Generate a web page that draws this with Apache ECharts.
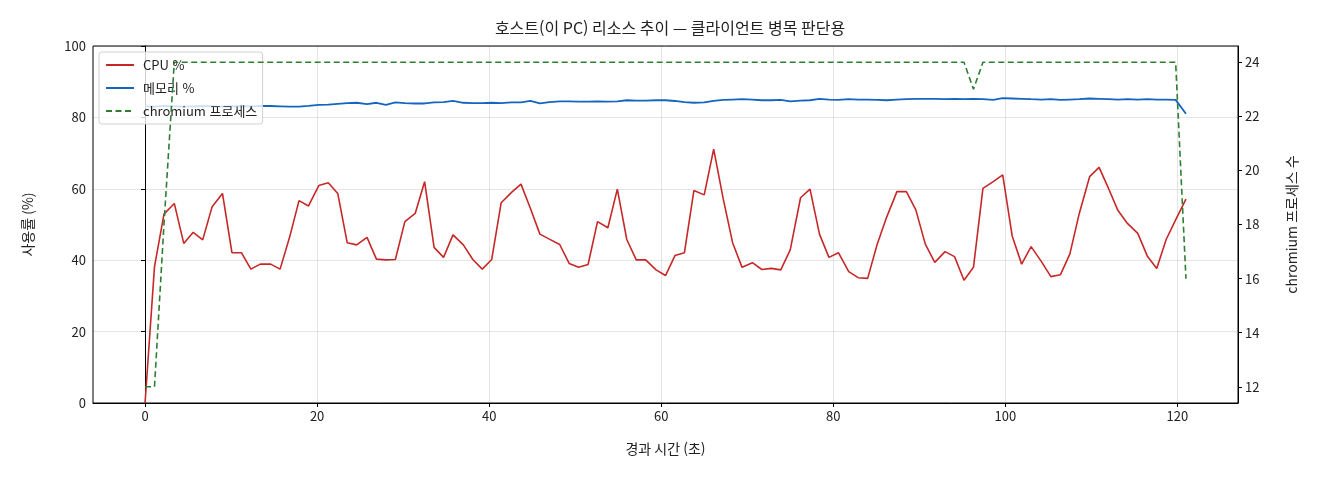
<!DOCTYPE html>
<html lang="ko">
<head>
<meta charset="utf-8">
<title>호스트 리소스 추이</title>
<script src="https://cdn.jsdelivr.net/npm/echarts@6/dist/echarts.min.js"></script>
<style>
  html, body { margin: 0; padding: 0; background: #fff; }
  #chart { width: 1320px; height: 480px; }
</style>
</head>
<body>
<div id="chart"></div>
<script>
// ========================== 데이터 ==========================
// 경과 시간 (초)
var timeSec = [
  0.0, 1.1, 2.2, 3.4, 4.5, 5.6, 6.7, 7.8, 9.0, 10.1,
  11.2, 12.3, 13.4, 14.6, 15.7, 16.8, 17.9, 19.0, 20.2, 21.3,
  22.4, 23.5, 24.6, 25.8, 26.9, 28.0, 29.1, 30.2, 31.4, 32.5,
  33.6, 34.7, 35.8, 37.0, 38.1, 39.2, 40.3, 41.4, 42.6, 43.7,
  44.8, 45.9, 47.0, 48.2, 49.3, 50.4, 51.5, 52.6, 53.8, 54.9,
  56.0, 57.1, 58.2, 59.4, 60.5, 61.6, 62.7, 63.8, 65.0, 66.1,
  67.2, 68.3, 69.4, 70.6, 71.7, 72.8, 73.9, 75.0, 76.2, 77.3,
  78.4, 79.5, 80.6, 81.8, 82.9, 84.0, 85.1, 86.2, 87.4, 88.5,
  89.6, 90.7, 91.8, 93.0, 94.1, 95.2, 96.3, 97.4, 98.6, 99.7,
  100.8, 101.9, 103.0, 104.2, 105.3, 106.4, 107.5, 108.6, 109.8, 110.9,
  112.0, 113.1, 114.2, 115.4, 116.5, 117.6, 118.7, 119.8, 121.0
];

// CPU 사용률 (%)
var cpuPct = [
  0.0, 38.2, 52.9, 55.9, 44.7, 47.8, 45.7, 55.0, 58.7, 42.1,
  42.1, 37.5, 38.9, 38.9, 37.5, 46.4, 56.7, 55.2, 60.9, 61.7,
  58.7, 44.9, 44.3, 46.4, 40.3, 40.1, 40.2, 50.8, 53.1, 62.0,
  43.6, 40.8, 47.1, 44.3, 40.2, 37.5, 40.2, 56.1, 59.0, 61.3,
  54.5, 47.3, 45.9, 44.4, 39.1, 38.0, 38.8, 50.8, 49.1, 59.9,
  45.8, 40.1, 40.1, 37.3, 35.7, 41.3, 42.1, 59.5, 58.3, 71.1,
  57.3, 44.9, 38.0, 39.3, 37.4, 37.7, 37.3, 42.9, 57.5, 59.9,
  47.3, 40.8, 42.1, 36.8, 35.1, 34.9, 44.4, 52.0, 59.2, 59.2,
  54.1, 44.5, 39.4, 42.4, 41.0, 34.4, 38.0, 60.1, 62.0, 63.9,
  46.8, 38.9, 43.8, 39.6, 35.4, 35.9, 41.7, 53.1, 63.4, 66.0,
  60.1, 53.9, 50.3, 47.5, 41.2, 37.7, 45.8, 51.3, 57.1
];

// 메모리 사용률 (%)
var memPct = [
  83.1, 83.0, 83.2, 83.1, 83.0, 83.1, 83.2, 83.1, 83.0, 83.1,
  83.2, 83.1, 83.2, 83.2, 83.1, 83.0, 83.0, 83.2, 83.5, 83.6,
  83.8, 84.0, 84.1, 83.7, 84.1, 83.5, 84.2, 84.0, 83.9, 83.9,
  84.2, 84.3, 84.6, 84.1, 84.0, 84.0, 84.1, 84.0, 84.2, 84.2,
  84.6, 83.9, 84.3, 84.5, 84.5, 84.4, 84.4, 84.5, 84.4, 84.5,
  84.8, 84.7, 84.7, 84.8, 84.8, 84.6, 84.3, 84.1, 84.2, 84.6,
  84.9, 85.0, 85.1, 85.0, 84.8, 84.8, 84.9, 84.5, 84.7, 84.8,
  85.2, 85.0, 84.9, 85.1, 85.0, 85.0, 84.9, 84.8, 85.0, 85.1,
  85.2, 85.2, 85.2, 85.1, 85.2, 85.1, 85.2, 85.1, 84.9, 85.4,
  85.3, 85.2, 85.1, 85.0, 85.1, 84.9, 85.0, 85.1, 85.3, 85.2,
  85.1, 85.0, 85.1, 85.0, 85.1, 85.0, 85.0, 84.9, 81.0
];

// chromium 프로세스 수
var chromiumCount = [
  12, 12, 18, 24, 24, 24, 24, 24, 24, 24,
  24, 24, 24, 24, 24, 24, 24, 24, 24, 24,
  24, 24, 24, 24, 24, 24, 24, 24, 24, 24,
  24, 24, 24, 24, 24, 24, 24, 24, 24, 24,
  24, 24, 24, 24, 24, 24, 24, 24, 24, 24,
  24, 24, 24, 24, 24, 24, 24, 24, 24, 24,
  24, 24, 24, 24, 24, 24, 24, 24, 24, 24,
  24, 24, 24, 24, 24, 24, 24, 24, 24, 24,
  24, 24, 24, 24, 24, 24, 23, 24, 24, 24,
  24, 24, 24, 24, 24, 24, 24, 24, 24, 24,
  24, 24, 24, 24, 24, 24, 24, 24, 16
];

// 눈금
var xTicks = [0, 20, 40, 60, 80, 100, 120];
var rightTicks = [12, 14, 16, 18, 20, 22, 24];

// ========================== 차트 ==========================
(function () {
  var myChart = echarts.init(document.getElementById('chart'));
  var font = '"Noto Sans CJK KR", "DejaVu Sans", sans-serif';

  function pairs(ys) {
    return timeSec.map(function (t, i) { return [t, ys[i]]; });
  }

  var option = {
    animation: false,
    textStyle: { fontFamily: font },
    title: {
      text: '호스트(이 PC) 리소스 추이 — 클라이언트 병목 판단용',
      left: 665,
      textAlign: 'center',
      top: 15,
      textStyle: { fontSize: 16, fontWeight: 'normal', color: '#222', fontFamily: font }
    },
    // 범례 (선만 표시, 점 숨김)
    legend: {
      orient: 'vertical',
      left: 99,
      top: 52,
      padding: [6, 6, 6, 6],
      itemGap: 9,
      itemWidth: 28,
      itemHeight: 14,
      backgroundColor: 'rgba(255,255,255,0.8)',
      borderColor: '#d0d0d0',
      borderWidth: 1,
      borderRadius: 3,
      itemStyle: { opacity: 0 },
      textStyle: { fontSize: 13, color: '#222', fontFamily: font, padding: [0, 0, 0, 4], lineHeight: 14 },
      data: ['CPU %', '메모리 %', 'chromium 프로세스']
    },
    grid: {
      left: 93,
      right: 82,
      top: 46,
      bottom: 77,
      show: true,
      borderColor: '#000',
      borderWidth: 1
    },
    xAxis: {
      type: 'value',
      min: -6.05,
      max: 127.05,
      name: '경과 시간 (초)',
      nameLocation: 'middle',
      nameGap: 39,
      nameTextStyle: { fontSize: 14, color: '#222' },
      axisLine: { show: true, lineStyle: { color: '#000', width: 1 } },
      axisTick: { show: true, length: 4, customValues: xTicks, lineStyle: { color: '#000' } },
      axisLabel: { customValues: xTicks, fontSize: 13, color: '#222', margin: 7 },
      splitLine: { show: true, lineStyle: { color: 'rgba(0,0,0,0.1)', width: 1 } }
    },
    yAxis: [
      {
        type: 'value',
        min: 0,
        max: 100,
        interval: 20,
        name: '사용률 (%)',
        nameLocation: 'middle',
        nameRotate: 90,
        nameGap: 58,
        nameTextStyle: { fontSize: 14, color: '#222' },
        axisLine: { show: true, lineStyle: { color: '#000', width: 1 } },
        axisTick: { show: true, length: 4, lineStyle: { color: '#000' } },
        axisLabel: { fontSize: 13, color: '#222', margin: 7 },
        splitLine: { show: true, lineStyle: { color: 'rgba(0,0,0,0.1)', width: 1 } }
      },
      {
        type: 'value',
        position: 'right',
        min: 11.4,
        max: 24.6,
        name: 'chromium 프로세스 수',
        nameLocation: 'middle',
        nameRotate: 90,
        nameGap: 47,
        nameTextStyle: { fontSize: 14, color: '#222' },
        axisLine: { show: true, lineStyle: { color: '#000', width: 1 } },
        axisTick: { show: true, length: 4, customValues: rightTicks, lineStyle: { color: '#000' } },
        axisLabel: { customValues: rightTicks, fontSize: 13, color: '#222', margin: 7 },
        splitLine: { show: false }
      }
    ],
    series: [
      {
        name: 'CPU %',
        type: 'line',
        yAxisIndex: 0,
        symbol: 'none',
        color: '#c62828',
        lineStyle: { color: '#c62828', width: 1.6 },
        data: pairs(cpuPct)
      },
      {
        name: '메모리 %',
        type: 'line',
        yAxisIndex: 0,
        symbol: 'none',
        color: '#1565c0',
        lineStyle: { color: '#1565c0', width: 1.8 },
        data: pairs(memPct)
      },
      {
        name: 'chromium 프로세스',
        type: 'line',
        yAxisIndex: 1,
        symbol: 'none',
        color: '#2e7d32',
        z: 5,
        lineStyle: { color: '#2e7d32', width: 1.6, type: [6, 3.5] },
        data: pairs(chromiumCount)
      }
    ]
  };

  myChart.setOption(option);
  window.addEventListener('resize', function () {
    myChart.resize();
  });
})();
</script>
</body>
</html>
